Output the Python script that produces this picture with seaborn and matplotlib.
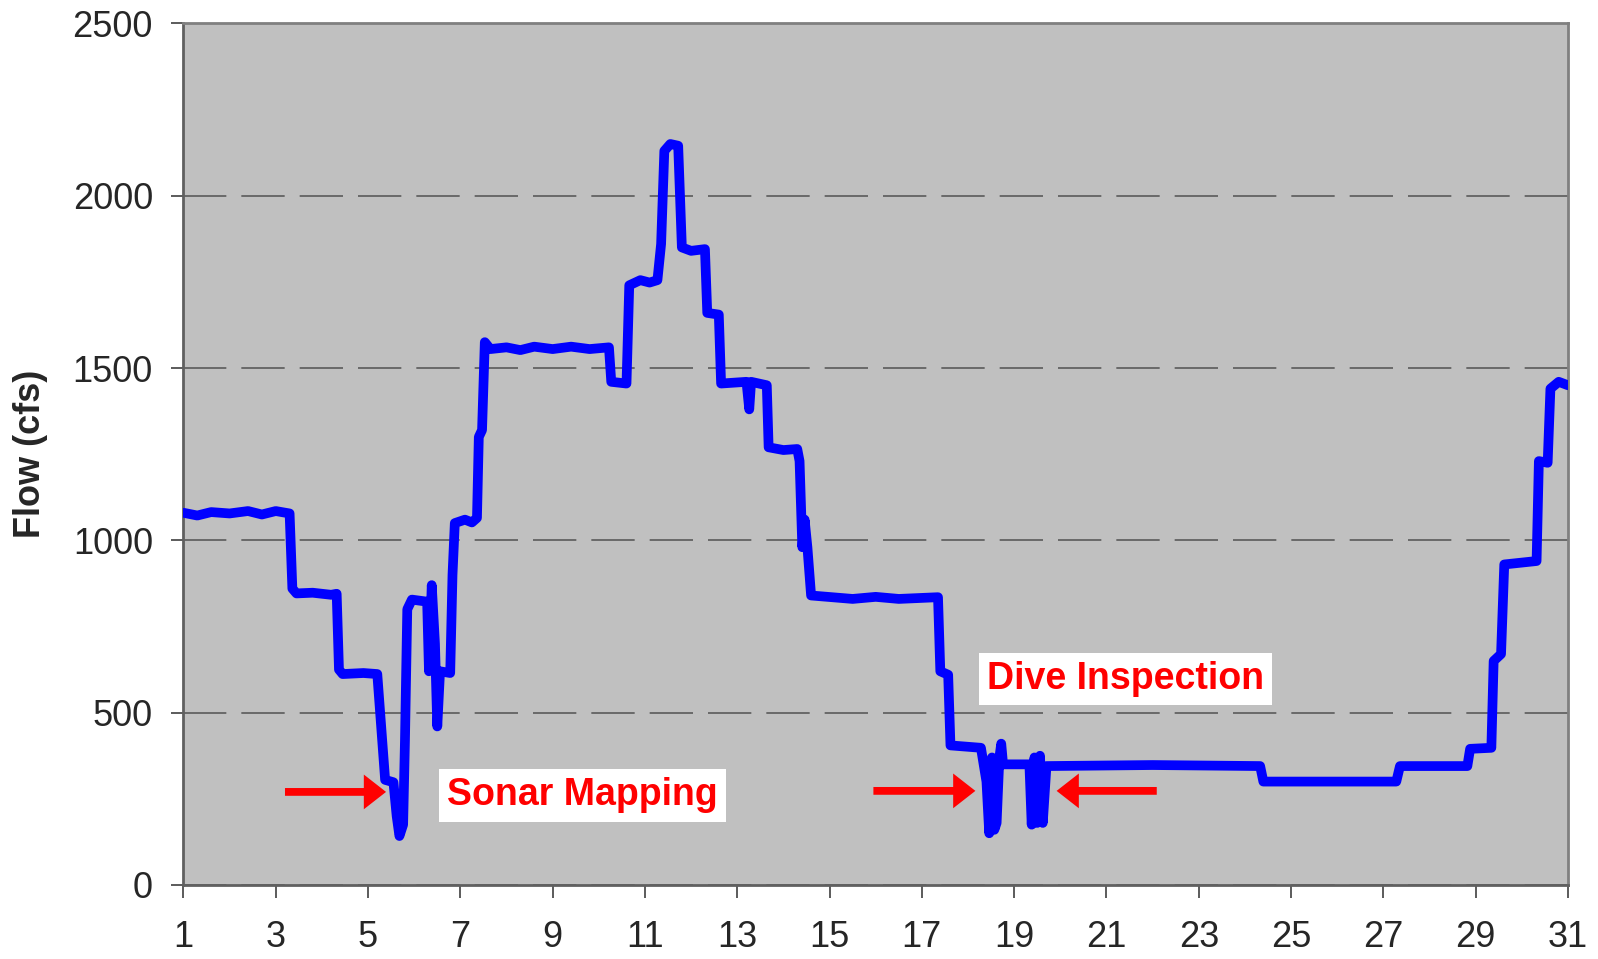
# -*- coding: utf-8 -*-
"""
Flow record for the month, with the sonar mapping and dive inspection windows marked
"""

import matplotlib
matplotlib.use("Agg")
import matplotlib.pyplot as plt
import seaborn as sns

# ===== data =====
day = [1.00, 1.30, 1.60, 2.00, 2.40, 2.70, 3.00, 3.30, 3.36, 3.45,
       3.80, 4.20, 4.32, 4.37, 4.45, 4.90, 5.20, 5.37, 5.55, 5.62,
       5.68, 5.76, 5.80, 5.85, 5.95, 6.28, 6.32, 6.38, 6.45, 6.50,
       6.56, 6.78, 6.83, 6.88, 7.10, 7.25, 7.36, 7.40, 7.47, 7.53,
       7.65, 8.00, 8.30, 8.60, 9.00, 9.40, 9.80, 10.22, 10.27, 10.60,
       10.66, 10.90, 11.10, 11.27, 11.35, 11.42, 11.55, 11.72, 11.80, 12.00,
       12.30, 12.35, 12.60, 12.65, 13.20, 13.26, 13.30, 13.64, 13.68, 14.00,
       14.30, 14.35, 14.41, 14.46, 14.52, 14.60, 15.50, 16.00, 16.50, 17.35,
       17.40, 17.57, 17.62, 18.28, 18.40, 18.46, 18.52, 18.57, 18.62, 18.68,
       18.72, 18.76, 19.33, 19.38, 19.44, 19.50, 19.56, 19.62, 19.70, 22.00,
       24.33, 24.40, 27.28, 27.36, 28.82, 28.88, 29.34, 29.39, 29.55, 29.62,
       30.32, 30.37, 30.56, 30.62, 30.80, 31.00]
flow = [1080, 1072, 1082, 1078, 1085, 1075, 1085, 1078, 860, 846,
        848, 842, 845, 625, 612, 615, 612, 305, 298, 200,
        142, 175, 420, 800, 828, 822, 620, 870, 700, 460,
        620, 615, 900, 1050, 1060, 1052, 1065, 1300, 1320, 1575,
        1555, 1560, 1552, 1562, 1555, 1562, 1555, 1560, 1460, 1455,
        1740, 1755, 1748, 1755, 1860, 2130, 2150, 2145, 1850, 1840,
        1845, 1660, 1655, 1455, 1460, 1380, 1460, 1450, 1270, 1262,
        1265, 1230, 980, 1060, 980, 840, 830, 836, 830, 835,
        620, 610, 405, 398, 300, 150, 370, 160, 180, 370,
        410, 350, 350, 175, 370, 180, 375, 180, 345, 348,
        345, 300, 300, 345, 345, 395, 398, 650, 670, 930,
        940, 1230, 1225, 1440, 1460, 1450]

x_ticks = list(range(1, 32, 2))
y_ticks = [0, 500, 1000, 1500, 2000, 2500]

# annotation positions (day, flow)
sonar_label = (9.64, 260)
sonar_arrow = [(3.20, 270), (5.39, 270)]
dive_label = (21.41, 598)
dive_arrow_left = [(15.95, 273), (18.16, 273)]
dive_arrow_right = [(22.09, 273), (19.92, 273)]

# ===== style =====
sns.set_theme(style="ticks")
plt.rcParams["font.family"] = ["Liberation Sans", "DejaVu Sans"]

fig = plt.figure(figsize=(15.98, 9.59), dpi=100)
ax = fig.add_axes([0.1148, 0.0772, 0.8664, 0.8984])
ax.set_facecolor("#C0C0C0")

sns.lineplot(x=day, y=flow, ax=ax, color="#0000FF", linewidth=7,
             sort=False, estimator=None,
             solid_joinstyle="round", solid_capstyle="round", zorder=3)

ax.set_xlim(1, 31)
ax.set_ylim(0, 2500)
ax.set_xticks(x_ticks)
ax.set_yticks(y_ticks)
ax.tick_params(axis="both", labelsize=26, length=9, width=1.2,
               color="#404040", direction="out")
ax.tick_params(axis="x", pad=16)
ax.tick_params(axis="y", pad=13)

ax.yaxis.grid(True, color="#5a5a5a", linewidth=1.2, linestyle=(0, (26, 9)))
ax.xaxis.grid(False)
ax.set_axisbelow(True)

for side, sp in ax.spines.items():
    sp.set_visible(True)
    sp.set_color("#808080")
    sp.set_linewidth(2)
ax.spines["left"].set_color("#606060")
ax.spines["bottom"].set_color("#606060")

ax.set_xlabel("")
ax.set_ylabel("Flow (cfs)", fontsize=26, fontweight="bold")
ax.yaxis.set_label_coords(-0.098, 0.5)

# ===== annotations =====
arrow_kw = dict(arrowstyle="simple,head_length=0.8,head_width=1.25,tail_width=0.28",
                color="#FF0000", mutation_scale=20, shrinkA=0, shrinkB=0, lw=0)
for start, end in [sonar_arrow, dive_arrow_left, dive_arrow_right]:
    ax.annotate("", xy=end, xytext=start, arrowprops=arrow_kw, zorder=4)

box_kw = dict(boxstyle="square,pad=0.22", facecolor="white", edgecolor="none")
ax.text(*sonar_label, "Sonar Mapping", color="#FF0000", fontsize=27,
        fontweight="bold", ha="center", va="center", bbox=box_kw, zorder=5)
ax.text(*dive_label, "Dive Inspection", color="#FF0000", fontsize=27,
        fontweight="bold", ha="center", va="center", bbox=box_kw, zorder=5)

fig.savefig("out.png", dpi=100)
